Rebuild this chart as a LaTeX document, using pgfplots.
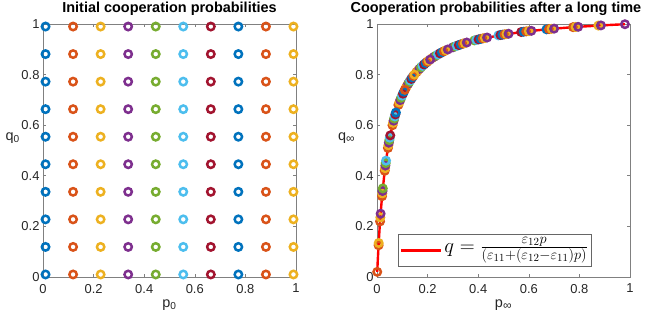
\documentclass[border=0pt]{standalone}
\usepackage{pgfplots}
\pgfplotsset{compat=1.18}
\usepackage{fontspec}
\setmainfont{Liberation Sans}
\definecolor{mA}{rgb}{0,0.447,0.741}
\definecolor{mB}{rgb}{0.85,0.325,0.098}
\definecolor{mC}{rgb}{0.929,0.694,0.125}
\definecolor{mD}{rgb}{0.494,0.184,0.556}
\definecolor{mE}{rgb}{0.466,0.674,0.188}
\definecolor{mF}{rgb}{0.301,0.745,0.933}
\definecolor{mG}{rgb}{0.635,0.078,0.184}
\pgfplotsset{
 base/.style={width=253bp,height=253bp,scale only axis,xmin=0,xmax=1,ymin=0,ymax=1,
  xtick={0,0.2,0.4,0.6,0.8,1}, ytick={0,0.2,0.4,0.6,0.8,1},
  tick align=inside, major tick length=3bp,
  axis line style={black!50,line width=0.6bp},
  tick style={black!50,line width=0.6bp},
  tick label style={font=\fontsize{13}{15}\selectfont,text=black!85},
  xticklabel style={yshift=-3.5bp},
  /pgf/number format/assume math mode=true,
  clip=false,
  title style={font=\bfseries\fontsize{14.5}{16}\selectfont, anchor=base, inner sep=0pt, at={(0.5,1)}, yshift=5.5bp},
  label style={font=\fontsize{14.5}{16}\selectfont,text=black!85},
  xlabel style={at={(axis description cs:0.5,-0.12)},anchor=base},
  ylabel style={rotate=-90,at={(axis description cs:-0.12,0.55)},anchor=center},
 },
 mk/.style={only marks,mark=o,mark size=3.7bp,mark options={line width=2.5bp,draw=#1,solid}, forget plot},
}
\begin{document}
\begin{tikzpicture}
\useasboundingbox (0bp,0bp) rectangle (655bp,324bp);
\begin{axis}[base, at={(43bp,47bp)}, anchor=south west,
  title={Initial cooperation probabilities},
  xlabel={p\textsubscript{0}}, ylabel={q\textsubscript{0}}]
\addplot[mk=mA] coordinates {(0.01,0.01)(0.01,0.1189)(0.01,0.2278)(0.01,0.3367)(0.01,0.4456)(0.01,0.5544)(0.01,0.6633)(0.01,0.7722)(0.01,0.8811)(0.01,0.99)};
\addplot[mk=mB] coordinates {(0.1189,0.01)(0.1189,0.1189)(0.1189,0.2278)(0.1189,0.3367)(0.1189,0.4456)(0.1189,0.5544)(0.1189,0.6633)(0.1189,0.7722)(0.1189,0.8811)(0.1189,0.99)};
\addplot[mk=mC] coordinates {(0.2278,0.01)(0.2278,0.1189)(0.2278,0.2278)(0.2278,0.3367)(0.2278,0.4456)(0.2278,0.5544)(0.2278,0.6633)(0.2278,0.7722)(0.2278,0.8811)(0.2278,0.99)};
\addplot[mk=mD] coordinates {(0.3367,0.01)(0.3367,0.1189)(0.3367,0.2278)(0.3367,0.3367)(0.3367,0.4456)(0.3367,0.5544)(0.3367,0.6633)(0.3367,0.7722)(0.3367,0.8811)(0.3367,0.99)};
\addplot[mk=mE] coordinates {(0.4456,0.01)(0.4456,0.1189)(0.4456,0.2278)(0.4456,0.3367)(0.4456,0.4456)(0.4456,0.5544)(0.4456,0.6633)(0.4456,0.7722)(0.4456,0.8811)(0.4456,0.99)};
\addplot[mk=mF] coordinates {(0.5544,0.01)(0.5544,0.1189)(0.5544,0.2278)(0.5544,0.3367)(0.5544,0.4456)(0.5544,0.5544)(0.5544,0.6633)(0.5544,0.7722)(0.5544,0.8811)(0.5544,0.99)};
\addplot[mk=mG] coordinates {(0.6633,0.01)(0.6633,0.1189)(0.6633,0.2278)(0.6633,0.3367)(0.6633,0.4456)(0.6633,0.5544)(0.6633,0.6633)(0.6633,0.7722)(0.6633,0.8811)(0.6633,0.99)};
\addplot[mk=mA] coordinates {(0.7722,0.01)(0.7722,0.1189)(0.7722,0.2278)(0.7722,0.3367)(0.7722,0.4456)(0.7722,0.5544)(0.7722,0.6633)(0.7722,0.7722)(0.7722,0.8811)(0.7722,0.99)};
\addplot[mk=mB] coordinates {(0.8811,0.01)(0.8811,0.1189)(0.8811,0.2278)(0.8811,0.3367)(0.8811,0.4456)(0.8811,0.5544)(0.8811,0.6633)(0.8811,0.7722)(0.8811,0.8811)(0.8811,0.99)};
\addplot[mk=mC] coordinates {(0.99,0.01)(0.99,0.1189)(0.99,0.2278)(0.99,0.3367)(0.99,0.4456)(0.99,0.5544)(0.99,0.6633)(0.99,0.7722)(0.99,0.8811)(0.99,0.99)};
\end{axis}
\begin{axis}[base, at={(377bp,47bp)}, anchor=south west,
  title={Cooperation probabilities after a long time},
  title style={at={(0.47,1)}},
  xlabel={p\textsubscript{\fontsize{12}{12}\selectfont ∞}}, ylabel={q\textsubscript{\fontsize{12}{12}\selectfont ∞}},
  legend style={at={(0.083,0.04)},anchor=south west, draw=black!60, line width=0.6bp, inner sep=1.5bp, fill=white, font=\fontsize{22}{24}\selectfont, nodes={text depth={}}},
  legend cell align=left,
  legend image code/.code={\draw[#1, line width=2.6bp] (0bp,0bp) -- (40bp,0bp);}]
\addplot[mk=mB] coordinates {(0.0009,0.0203)(0.0062,0.1255)(0.0121,0.2198)(0.0200,0.3194)(0.0305,0.4198)(0.0433,0.5100)(0.0612,0.5999)(0.0846,0.6801)(0.1150,0.7493)(0.156,0.8096)};
\addplot[mk=mC] coordinates {(0.0067,0.1343)(0.0132,0.2353)(0.0210,0.3304)(0.0318,0.4303)(0.0451,0.5207)(0.0635,0.6093)(0.0882,0.6899)(0.1191,0.7567)(0.162,0.8164)(0.2180,0.8651)};
\addplot[mk=mD] coordinates {(0.0143,0.2502)(0.0219,0.3399)(0.0331,0.4405)(0.0469,0.5309)(0.0657,0.6179)(0.0919,0.6995)(0.1233,0.7639)(0.168,0.8228)(0.2258,0.8703)(0.3000,0.9079)};
\addplot[mk=mE] coordinates {(0.0229,0.3502)(0.0344,0.4504)(0.0488,0.5413)(0.0680,0.6266)(0.0955,0.7083)(0.1274,0.7705)(0.174,0.8289)(0.2335,0.8751)(0.3079,0.9110)(0.3850,0.9351)};
\addplot[mk=mF] coordinates {(0.0357,0.4599)(0.0506,0.5507)(0.0702,0.6346)(0.0991,0.7167)(0.1315,0.7769)(0.180,0.8347)(0.2413,0.8797)(0.3157,0.9139)(0.3933,0.9371)(0.480,0.9550)};
\addplot[mk=mG] coordinates {(0.0524,0.5598)(0.0725,0.6426)(0.1027,0.7247)(0.1356,0.7830)(0.186,0.8401)(0.2490,0.8841)(0.3236,0.9167)(0.4017,0.9392)(0.488,0.9564)(0.57,0.9682)};
\addplot[mk=mA] coordinates {(0.0747,0.6500)(0.1064,0.7325)(0.1398,0.7889)(0.192,0.8453)(0.2568,0.8882)(0.3314,0.9194)(0.4100,0.9411)(0.496,0.9577)(0.58,0.9695)(0.67,0.9790)};
\addplot[mk=mB] coordinates {(0.1100,0.7398)(0.1439,0.7945)(0.198,0.8503)(0.2645,0.8921)(0.3393,0.9219)(0.4183,0.9430)(0.504,0.9590)(0.59,0.9707)(0.68,0.9799)(0.775,0.9875)};
\addplot[mk=mC] coordinates {(0.1480,0.7998)(0.204,0.8550)(0.2723,0.8959)(0.3471,0.9244)(0.4267,0.9448)(0.512,0.9602)(0.60,0.9718)(0.69,0.9808)(0.785,0.9882)(0.875,0.9938)};
\addplot[mk=mD] coordinates {(0.210,0.8594)(0.2800,0.8994)(0.3550,0.9268)(0.4350,0.9465)(0.520,0.9614)(0.61,0.9730)(0.70,0.9817)(0.795,0.9889)(0.885,0.9944)(0.98,0.9991)};
\addplot[red, line width=2.4bp] coordinates {(0.0009,0.0203)(0.003,0.0647)(0.0062,0.1255)(0.01,0.1885)(0.015,0.2594)(0.02,0.3194)(0.03,0.4157)(0.04,0.4894)(0.05,0.5476)(0.06,0.5948)(0.08,0.6667)(0.10,0.7188)(0.12,0.7582)(0.15,0.8023)(0.20,0.8519)(0.25,0.8846)(0.30,0.9079)(0.35,0.9253)(0.40,0.9388)(0.50,0.9583)(0.60,0.9718)(0.70,0.9817)(0.80,0.9892)(0.90,0.9952)(0.98,0.9991)};
\addlegendentry{$q=\frac{\varepsilon_{12}p}{(\varepsilon_{11}+(\varepsilon_{12}-\varepsilon_{11})p)}$}
\end{axis}
\end{tikzpicture}
\end{document}
